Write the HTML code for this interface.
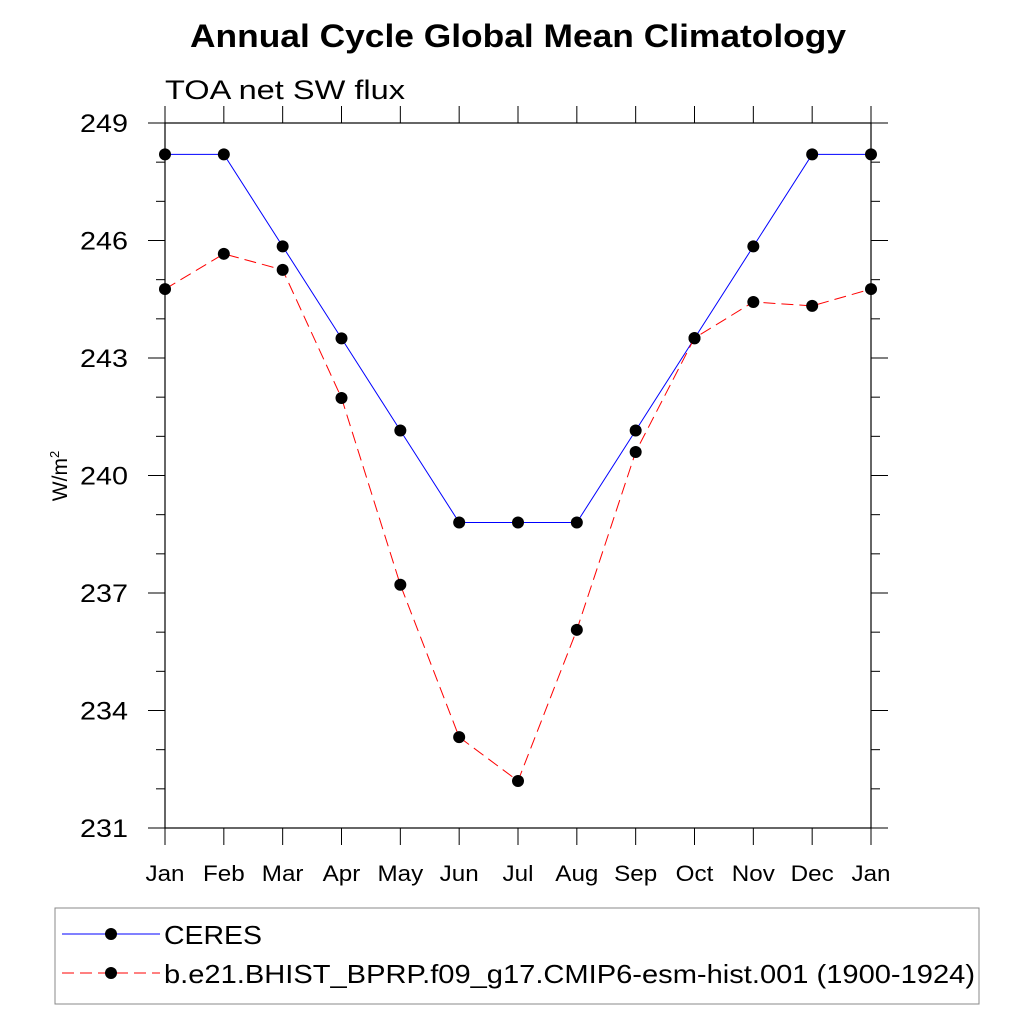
<!DOCTYPE html>
<html><head><meta charset="utf-8"><style>
body{margin:0;background:#fff;}
svg text{font-family:"Liberation Sans",sans-serif;}
</style></head><body>
<svg id="chart" width="1024" height="1024" xmlns="http://www.w3.org/2000/svg">
<text x="190" y="47" font-size="32" font-weight="bold" textLength="656" lengthAdjust="spacingAndGlyphs">Annual Cycle Global Mean Climatology</text>
<text x="165" y="99" font-size="27" textLength="240" lengthAdjust="spacingAndGlyphs">TOA net SW flux</text>
<text transform="translate(67,476) rotate(-90)" text-anchor="middle" font-size="21">W/m<tspan dy="-8" font-size="13">2</tspan></text>
<g id="axes"></g>
<g id="series"></g>
<g>
<rect x="55" y="908" width="924" height="96" fill="none" stroke="#888" stroke-width="1"/>
<line x1="62" y1="934" x2="160" y2="934" stroke="#0000ff" stroke-width="1"/>
<circle cx="111" cy="934" r="6" fill="#000"/>
<text x="164" y="944" font-size="26" textLength="98" lengthAdjust="spacingAndGlyphs">CERES</text>
<line x1="62" y1="973" x2="160" y2="973" stroke="#ff0000" stroke-width="1" stroke-dasharray="12,6"/>
<circle cx="111" cy="973" r="6" fill="#000"/>
<text x="164" y="983" font-size="26" textLength="811" lengthAdjust="spacingAndGlyphs">b.e21.BHIST_BPRP.f09_g17.CMIP6-esm-hist.001 (1900-1924)</text>
</g>
</svg>
<script>
const months=["Jan","Feb","Mar","Apr","May","Jun","Jul","Aug","Sep","Oct","Nov","Dec","Jan"];
const ceres=[248.2,248.2,245.85,243.5,241.15,238.8,238.8,238.8,241.15,243.5,245.85,248.2,248.2];
const model=[244.76,245.66,245.25,241.98,237.21,233.32,232.2,236.06,240.6,243.51,244.43,244.33,244.76];
const yTicks=[231,234,237,240,243,246,249];
const NS="http://www.w3.org/2000/svg";
const X0=165,X1=871,Y0=828,Y1=123,YMIN=231,YMAX=249;
function xs(i){return X0+(X1-X0)*i/(months.length-1);}
function ys(v){return Y0-(v-YMIN)/(YMAX-YMIN)*(Y0-Y1);}
function mk(t,a,p){const e=document.createElementNS(NS,t);for(const k in a)e.setAttribute(k,a[k]);p.appendChild(e);return e;}
function widen(t,f){const w=t.getComputedTextLength();t.setAttribute('textLength',w*f);t.setAttribute('lengthAdjust','spacingAndGlyphs');}
const ax=document.getElementById('axes');
const frame=mk('rect',{x:X0,y:Y1,width:X1-X0,height:Y0-Y1,fill:'none',stroke:'#000','stroke-width':1.2},ax);


for(let v=YMIN;v<=YMAX;v++){
  const maj=(v-YMIN)%3===0,L=maj?17:9,y=ys(v);
  mk('line',{x1:X0-L,y1:y,x2:X0,y2:y,stroke:'#000','stroke-width':1},ax);
  mk('line',{x1:X1,y1:y,x2:X1+L,y2:y,stroke:'#000','stroke-width':1},ax);
}
yTicks.forEach(v=>{
  const t=mk('text',{x:128,y:ys(v)+9,'text-anchor':'end','font-size':25},ax);
  t.textContent=v;
  
  
  widen(t,1.15);
});
months.forEach((m,i)=>{
  const x=xs(i);
  mk('line',{x1:x,y1:Y0,x2:x,y2:Y0+17,stroke:'#000','stroke-width':1},ax);
  mk('line',{x1:x,y1:Y1-17,x2:x,y2:Y1,stroke:'#000','stroke-width':1},ax);
  const t=mk('text',{x:x,y:881,'text-anchor':'middle','font-size':22},ax);
  t.textContent=m;
  
  
  widen(t,1.1);
});
const sg=document.getElementById('series');
function draw(arr,color,dash,name){
  const pts=arr.map((v,i)=>xs(i)+','+ys(v)).join(' ');
  const pl=mk('polyline',{points:pts,fill:'none',stroke:color,'stroke-width':1,'stroke-dasharray':dash},sg);
  
  
  arr.forEach((v,i)=>{
    const c=mk('circle',{cx:xs(i),cy:ys(v),r:6,fill:'#000'},sg);
    
    
  });
}
draw(ceres,'#0000ff','none','ceres');
draw(model,'#ff0000','12,6','model');
</script>
</body></html>
